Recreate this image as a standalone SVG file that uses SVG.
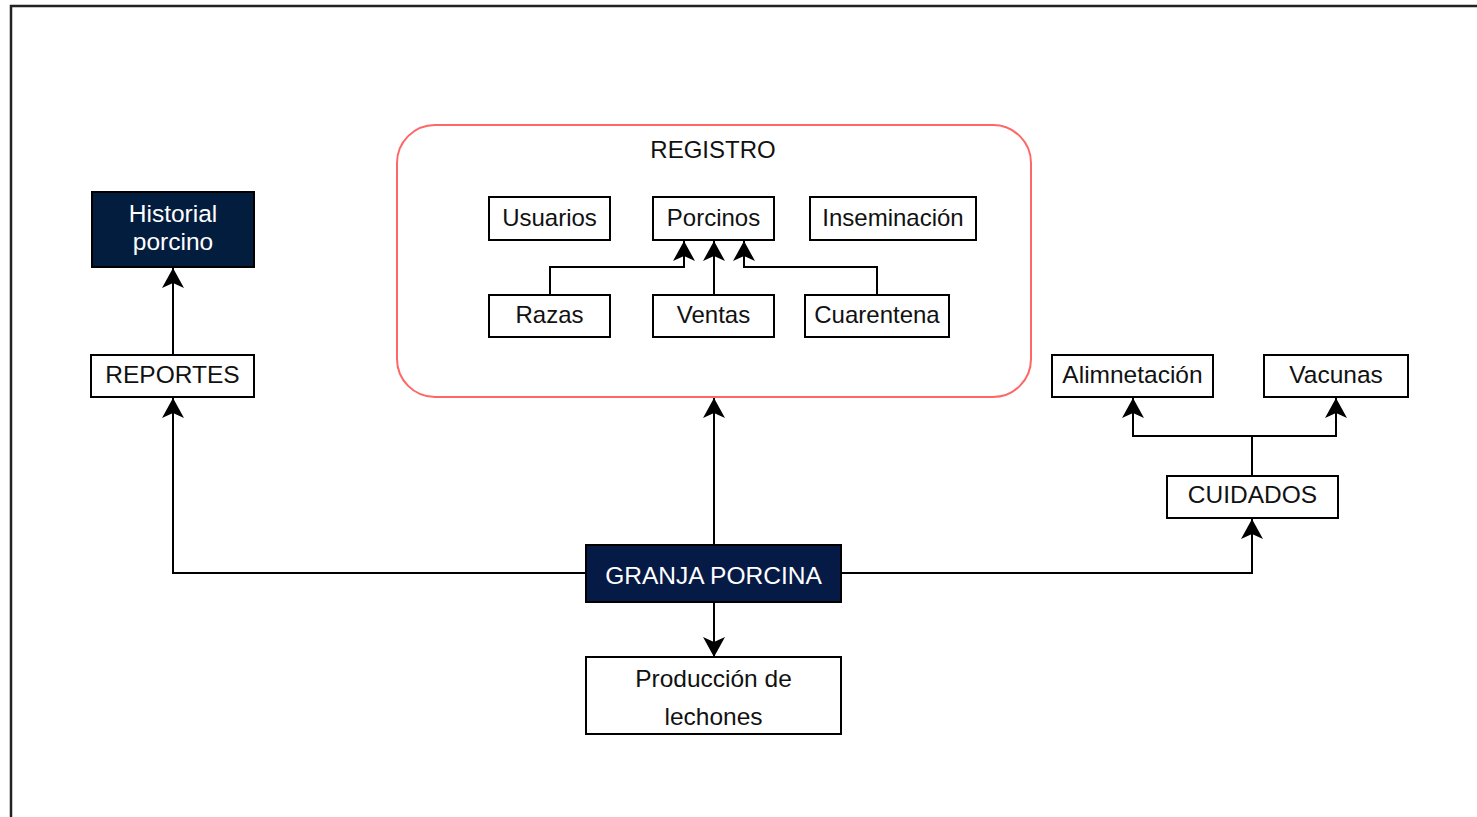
<svg xmlns="http://www.w3.org/2000/svg" width="1477" height="817" viewBox="0 0 1477 817">
<style>
.box{fill:#fff;stroke:#000;stroke-width:2}
.dark{fill:#021d3e;stroke:#000;stroke-width:2}
.navy{fill:#061a46;stroke:#000;stroke-width:2}
.t{font-family:"Liberation Sans",Arial,sans-serif;font-size:24.5px;fill:#111;text-anchor:middle}
.ti{font-family:"Liberation Sans",Arial,sans-serif;font-size:24px;fill:#111;text-anchor:middle}
.w{fill:#fff}
.c{fill:none;stroke:#000;stroke-width:2}
</style>
<defs>
<marker id="arr" markerUnits="userSpaceOnUse" markerWidth="22" markerHeight="24" refX="20" refY="11" orient="auto">
<path d="M20,11 L0,0 L5,11 L0,22 Z" fill="#000"/>
</marker>
</defs>
<rect width="1477" height="817" fill="#fff"/>
<path d="M11,817 L11,6 L1477,6" fill="none" stroke="#222" stroke-width="2.5"/>

<g id="connectors">
<path class="c" d="M714,545 L714,398" marker-end="url(#arr)"/>
<path class="c" d="M586,573 L173,573 L173,398" marker-end="url(#arr)"/>
<path class="c" d="M173,355 L173,268" marker-end="url(#arr)"/>
<path class="c" d="M841,573 L1252,573 L1252,519" marker-end="url(#arr)"/>
<path class="c" d="M1252,476 L1252,436 L1133,436 L1133,398" marker-end="url(#arr)"/>
<path class="c" d="M1252,436 L1336,436 L1336,398" marker-end="url(#arr)"/>
<path class="c" d="M714,602 L714,657" marker-end="url(#arr)"/>
<path class="c" d="M550,295 L550,267 L684,267 L684,241" marker-end="url(#arr)"/>
<path class="c" d="M714,295 L714,241" marker-end="url(#arr)"/>
<path class="c" d="M877,295 L877,267 L744,267 L744,241" marker-end="url(#arr)"/>
</g>

<g id="registro">
<rect x="397" y="125" width="634" height="272" rx="38" fill="none" stroke="#ff6666" stroke-width="2"/>
<text class="ti" x="713" y="158">REGISTRO</text>
</g>
<g id="usuarios"><rect class="box" x="489" y="197" width="121" height="43"/><text class="ti" x="549.5" y="226">Usuarios</text></g>
<g id="porcinos"><rect class="box" x="653" y="197" width="121" height="43"/><text class="ti" x="713.5" y="226">Porcinos</text></g>
<g id="inseminacion"><rect class="box" x="810" y="197" width="166" height="43"/><text class="ti" x="893" y="226">Inseminación</text></g>
<g id="razas"><rect class="box" x="489" y="295" width="121" height="42"/><text class="ti" x="549.5" y="323">Razas</text></g>
<g id="ventas"><rect class="box" x="653" y="295" width="121" height="42"/><text class="ti" x="713.5" y="323">Ventas</text></g>
<g id="cuarentena"><rect class="box" x="805" y="295" width="144" height="42"/><text class="ti" x="877" y="323">Cuarentena</text></g>

<g id="historial"><rect class="dark" x="92" y="192" width="162" height="75"/><text class="t w" x="173" y="222">Historial</text><text class="t w" x="173" y="250">porcino</text></g>
<g id="reportes"><rect class="box" x="91" y="355" width="163" height="42"/><text class="t" x="172.5" y="383">REPORTES</text></g>
<g id="alimnetacion"><rect class="box" x="1052" y="355" width="161" height="42"/><text class="t" x="1132.5" y="383">Alimnetación</text></g>
<g id="vacunas"><rect class="box" x="1264" y="355" width="144" height="42"/><text class="t" x="1336" y="383">Vacunas</text></g>
<g id="cuidados"><rect class="box" x="1167" y="476" width="171" height="42"/><text class="t" x="1252.5" y="503">CUIDADOS</text></g>
<g id="granja"><rect class="navy" x="586" y="545" width="255" height="57"/><text class="t w" x="713.5" y="584">GRANJA PORCINA</text></g>
<g id="produccion"><rect class="box" x="586" y="657" width="255" height="77"/><text class="t" x="713.5" y="687">Producción de</text><text class="t" x="713.5" y="725">lechones</text></g>
</svg>
